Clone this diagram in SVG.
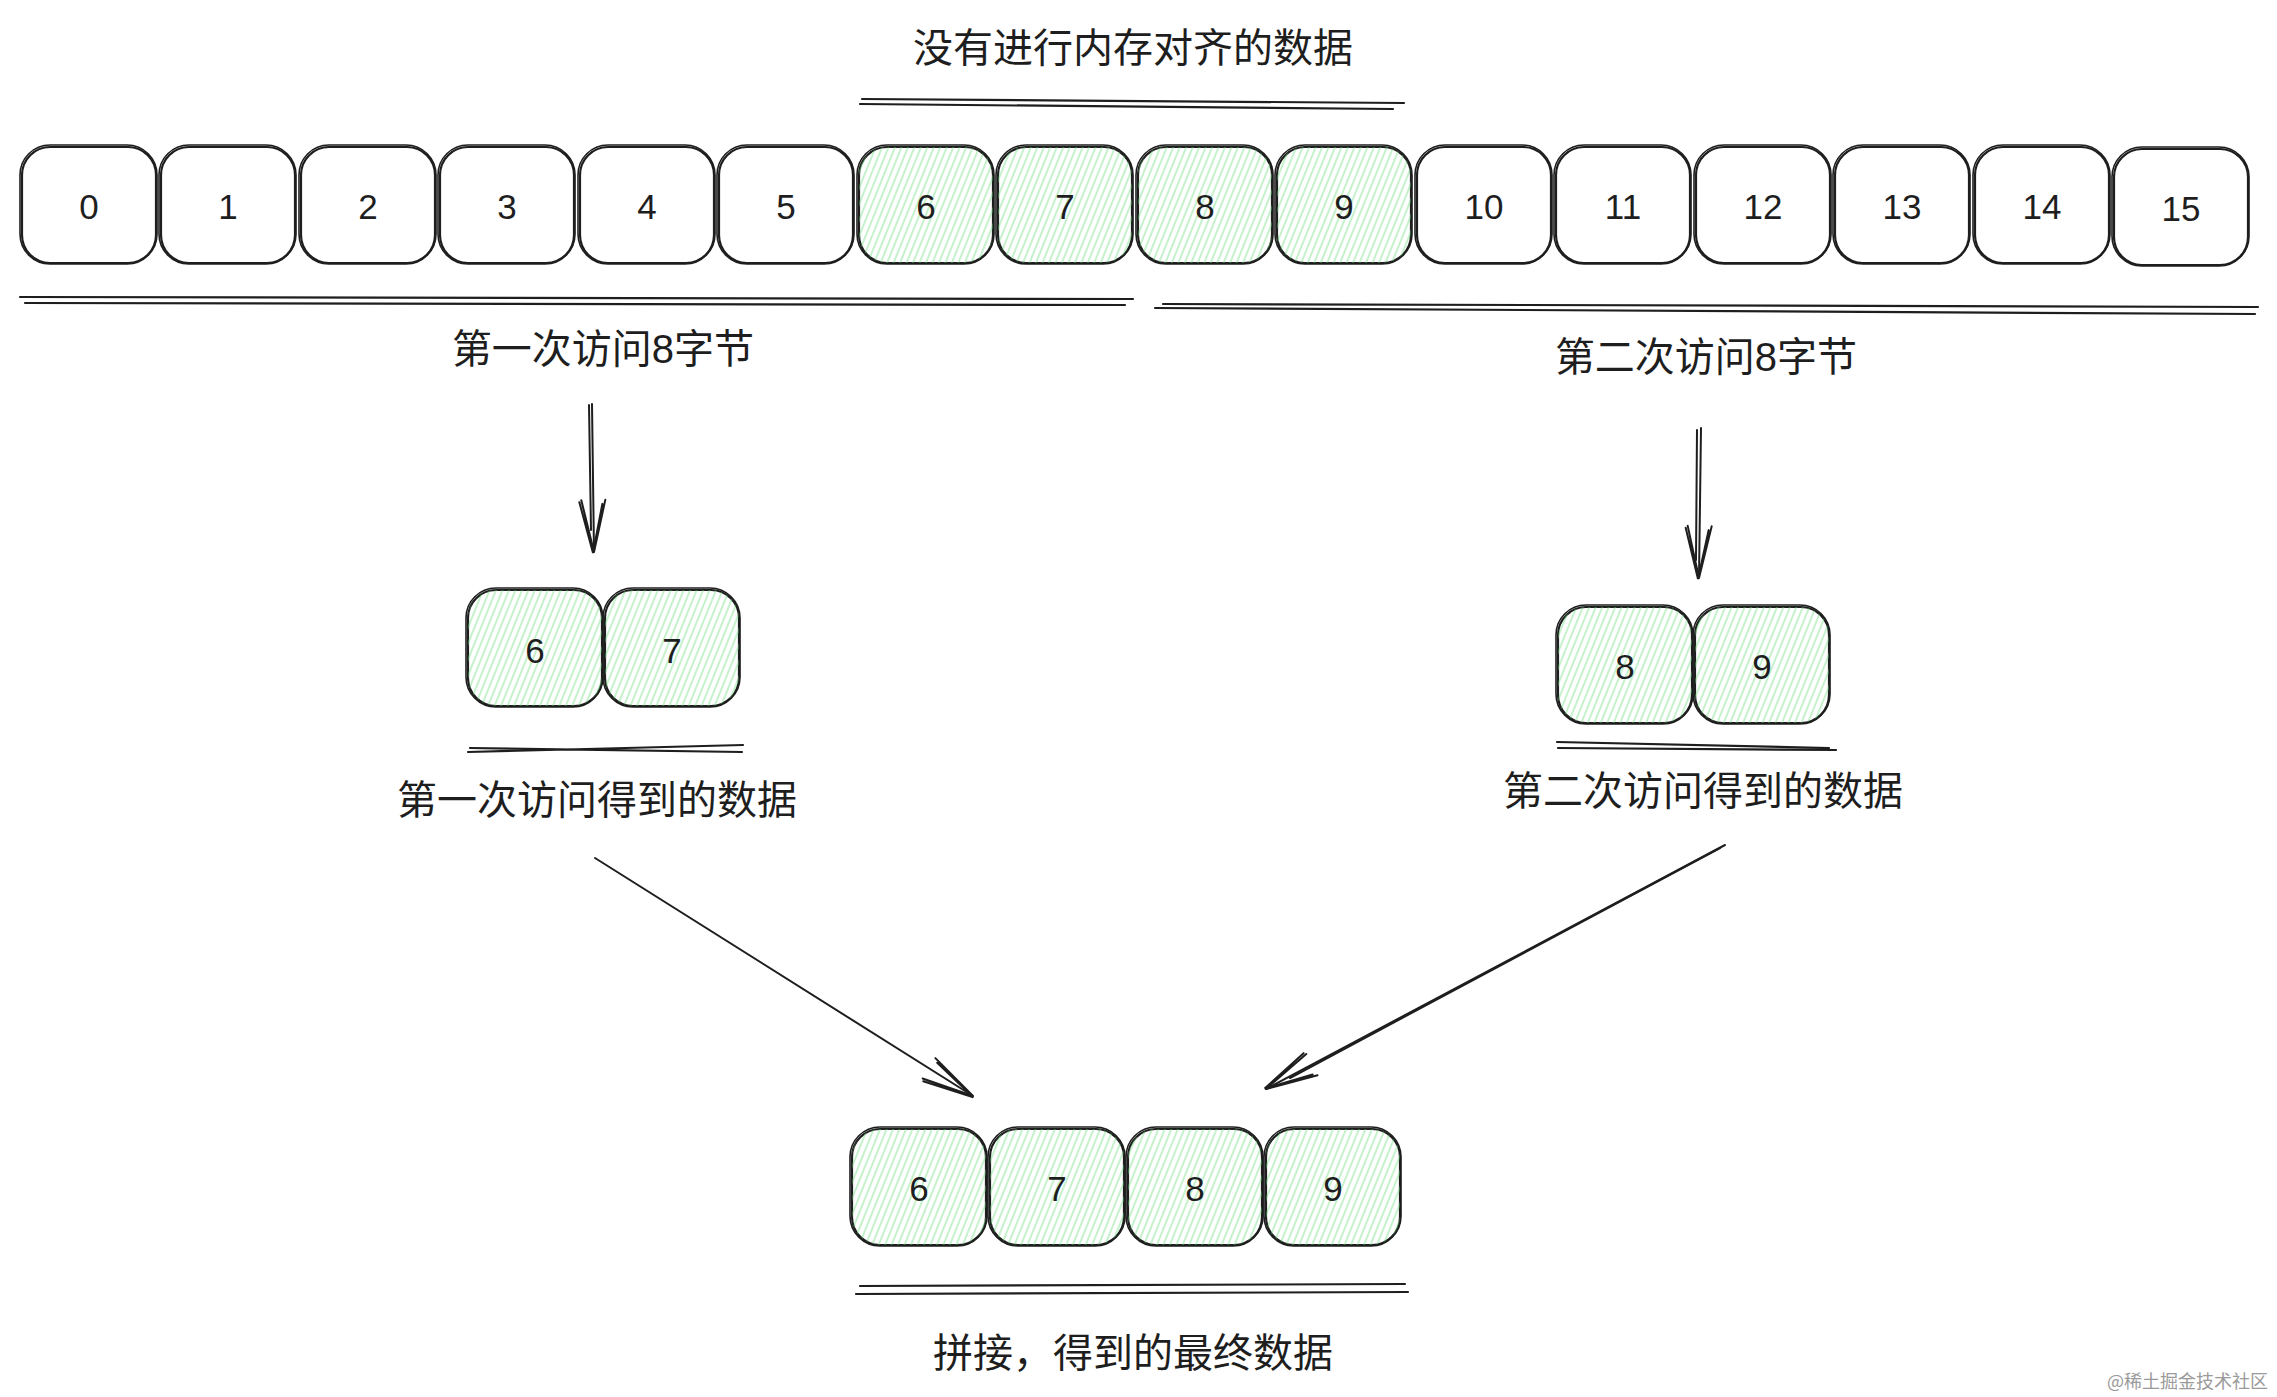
<svg xmlns="http://www.w3.org/2000/svg" width="2277" height="1397" viewBox="0 0 2277 1397">
<defs>
<pattern id="hatch" patternUnits="userSpaceOnUse" width="6" height="8" patternTransform="rotate(22)">
<line x1="3" y1="0" x2="3" y2="8" stroke="#69db7c" stroke-width="1.1" stroke-opacity="0.7"/>
</pattern>
<marker id="arr" markerUnits="userSpaceOnUse" markerWidth="80" markerHeight="40" viewBox="-60 -20 70 40" refX="0" refY="0" orient="auto">
<path d="M -52 -12 L 0 0 L -52 12 M -48 -9 L 1 1 L -50 14" fill="none" stroke="#1e1e1e" stroke-width="2" stroke-linecap="round"/>
</marker>
<style>
.box{fill:#ffffff;stroke:#1e1e1e;stroke-width:2.2}
.g{fill:url(#hatch)}
.b2{fill:none;stroke:#1e1e1e;stroke-width:1.6}
.num{font-family:"Liberation Sans",sans-serif;font-size:35px;fill:#1e1e1e;text-anchor:middle;dominant-baseline:central}
.lbl{font-family:"Liberation Sans","Noto Sans CJK SC",sans-serif;font-size:40px;fill:#1e1e1e;text-anchor:middle;dominant-baseline:central}
.ul{stroke:#1e1e1e;stroke-width:2.2;fill:none;stroke-linecap:round}
.ar{stroke:#1e1e1e;stroke-width:2;fill:none;stroke-linecap:round}
.wm{font-family:"Noto Sans CJK SC",sans-serif;font-size:18px;fill:#9a9a9a;text-anchor:end}
</style>
</defs>
<rect width="2277" height="1397" fill="#ffffff"/>

<g id="title"><text class="lbl" x="1133" y="48">没有进行内存对齐的数据</text></g>

<g id="row">
<g id="c0"><rect class="box" x="22" y="147" width="134" height="116" rx="28"/><rect class="b2" x="20" y="145" width="137" height="119" rx="30"/><text class="num" x="89" y="206">0</text></g>
<g id="c1"><rect class="box" x="161" y="147" width="134" height="116" rx="28"/><rect class="b2" x="159" y="145" width="137" height="119" rx="30"/><text class="num" x="228" y="206">1</text></g>
<g id="c2"><rect class="box" x="301" y="147" width="134" height="116" rx="28"/><rect class="b2" x="299" y="145" width="137" height="119" rx="30"/><text class="num" x="368" y="206">2</text></g>
<g id="c3"><rect class="box" x="440" y="147" width="134" height="116" rx="28"/><rect class="b2" x="438" y="145" width="137" height="119" rx="30"/><text class="num" x="507" y="206">3</text></g>
<g id="c4"><rect class="box" x="580" y="147" width="134" height="116" rx="28"/><rect class="b2" x="578" y="145" width="137" height="119" rx="30"/><text class="num" x="647" y="206">4</text></g>
<g id="c5"><rect class="box" x="719" y="147" width="134" height="116" rx="28"/><rect class="b2" x="717" y="145" width="137" height="119" rx="30"/><text class="num" x="786" y="206">5</text></g>
<g id="c6"><rect class="box" x="859" y="147" width="134" height="116" rx="28"/><rect class="g" x="859" y="147" width="134" height="116" rx="28"/><rect class="b2" x="857" y="145" width="137" height="119" rx="30"/><text class="num" x="926" y="206">6</text></g>
<g id="c7"><rect class="box" x="998" y="147" width="134" height="116" rx="28"/><rect class="g" x="998" y="147" width="134" height="116" rx="28"/><rect class="b2" x="996" y="145" width="137" height="119" rx="30"/><text class="num" x="1065" y="206">7</text></g>
<g id="c8"><rect class="box" x="1138" y="147" width="134" height="116" rx="28"/><rect class="g" x="1138" y="147" width="134" height="116" rx="28"/><rect class="b2" x="1136" y="145" width="137" height="119" rx="30"/><text class="num" x="1205" y="206">8</text></g>
<g id="c9"><rect class="box" x="1277" y="147" width="134" height="116" rx="28"/><rect class="g" x="1277" y="147" width="134" height="116" rx="28"/><rect class="b2" x="1275" y="145" width="137" height="119" rx="30"/><text class="num" x="1344" y="206">9</text></g>
<g id="c10"><rect class="box" x="1417" y="147" width="134" height="116" rx="28"/><rect class="b2" x="1415" y="145" width="137" height="119" rx="30"/><text class="num" x="1484" y="206">10</text></g>
<g id="c11"><rect class="box" x="1556" y="147" width="134" height="116" rx="28"/><rect class="b2" x="1554" y="145" width="137" height="119" rx="30"/><text class="num" x="1623" y="206">11</text></g>
<g id="c12"><rect class="box" x="1696" y="147" width="134" height="116" rx="28"/><rect class="b2" x="1694" y="145" width="137" height="119" rx="30"/><text class="num" x="1763" y="206">12</text></g>
<g id="c13"><rect class="box" x="1835" y="147" width="134" height="116" rx="28"/><rect class="b2" x="1833" y="145" width="137" height="119" rx="30"/><text class="num" x="1902" y="206">13</text></g>
<g id="c14"><rect class="box" x="1975" y="147" width="134" height="116" rx="28"/><rect class="b2" x="1973" y="145" width="137" height="119" rx="30"/><text class="num" x="2042" y="206">14</text></g>
<g id="c15"><rect class="box" x="2114" y="149" width="134" height="116" rx="28"/><rect class="b2" x="2112" y="147" width="137" height="119" rx="30"/><text class="num" x="2181" y="208">15</text></g>
</g>

<g id="label1"><text class="lbl" x="603" y="349">第一次访问8字节</text></g>
<g id="label2"><text class="lbl" x="1706" y="357">第二次访问8字节</text></g>

<g id="first">
<g id="f6"><rect class="box" x="468" y="590" width="134" height="116" rx="28"/><rect class="g" x="468" y="590" width="134" height="116" rx="28"/><rect class="b2" x="466" y="588" width="137" height="119" rx="30"/><text class="num" x="535" y="650">6</text></g>
<g id="f7"><rect class="box" x="605" y="590" width="134" height="116" rx="28"/><rect class="g" x="605" y="590" width="134" height="116" rx="28"/><rect class="b2" x="603" y="588" width="137" height="119" rx="30"/><text class="num" x="672" y="650">7</text></g>
</g>
<g id="label3"><text class="lbl" x="597" y="800">第一次访问得到的数据</text></g>

<g id="second">
<g id="s8"><rect class="box" x="1558" y="607" width="134" height="116" rx="28"/><rect class="g" x="1558" y="607" width="134" height="116" rx="28"/><rect class="b2" x="1556" y="605" width="137" height="119" rx="30"/><text class="num" x="1625" y="666">8</text></g>
<g id="s9"><rect class="box" x="1695" y="607" width="134" height="116" rx="28"/><rect class="g" x="1695" y="607" width="134" height="116" rx="28"/><rect class="b2" x="1693" y="605" width="137" height="119" rx="30"/><text class="num" x="1762" y="666">9</text></g>
</g>
<g id="label4"><text class="lbl" x="1703" y="791">第二次访问得到的数据</text></g>

<g id="final">
<g id="r6"><rect class="box" x="852" y="1129" width="134" height="116" rx="28"/><rect class="g" x="852" y="1129" width="134" height="116" rx="28"/><rect class="b2" x="850" y="1127" width="137" height="119" rx="30"/><text class="num" x="919" y="1188">6</text></g>
<g id="r7"><rect class="box" x="990" y="1129" width="134" height="116" rx="28"/><rect class="g" x="990" y="1129" width="134" height="116" rx="28"/><rect class="b2" x="988" y="1127" width="137" height="119" rx="30"/><text class="num" x="1057" y="1188">7</text></g>
<g id="r8"><rect class="box" x="1128" y="1129" width="134" height="116" rx="28"/><rect class="g" x="1128" y="1129" width="134" height="116" rx="28"/><rect class="b2" x="1126" y="1127" width="137" height="119" rx="30"/><text class="num" x="1195" y="1188">8</text></g>
<g id="r9"><rect class="box" x="1266" y="1129" width="134" height="116" rx="28"/><rect class="g" x="1266" y="1129" width="134" height="116" rx="28"/><rect class="b2" x="1264" y="1127" width="137" height="119" rx="30"/><text class="num" x="1333" y="1188">9</text></g>
</g>
<g id="label5"><text class="lbl" x="1133" y="1353">拼接，得到的最终数据</text></g>

<g id="underlines">
<path class="ul" d="M 862 99 L 1404 103 M 860 104 L 1393 109"/>
<path class="ul" d="M 20 297 L 1133 299 M 25 303 L 1125 305"/>
<path class="ul" d="M 1163 304 L 2258 307 M 1155 308 L 2255 314"/>
<path class="ul" d="M 468 752 L 743 745 M 470 748 L 742 752"/>
<path class="ul" d="M 1557 742 L 1829 748 M 1558 748 L 1836 750"/>
<path class="ul" d="M 860 1286 L 1405 1284 M 856 1294 L 1408 1292"/>
</g>

<g id="connectors">
<path class="ar" d="M 592 404 L 594 552" marker-end="url(#arr)"/>
<path class="ar" d="M 589 405 L 591 530"/>
<path class="ar" d="M 1701 428 L 1699 578" marker-end="url(#arr)"/>
<path class="ar" d="M 1697 430 L 1696 560"/>
<path class="ar" d="M 595 858 L 973 1096" marker-end="url(#arr)"/>
<path class="ar" d="M 1725 845 L 1266 1089" marker-end="url(#arr)"/>
<path class="ar" d="M 1720 848 L 1290 1078"/>
</g>

<g id="watermark"><text class="wm" x="2268" y="1388">@稀土掘金技术社区</text></g>
</svg>
